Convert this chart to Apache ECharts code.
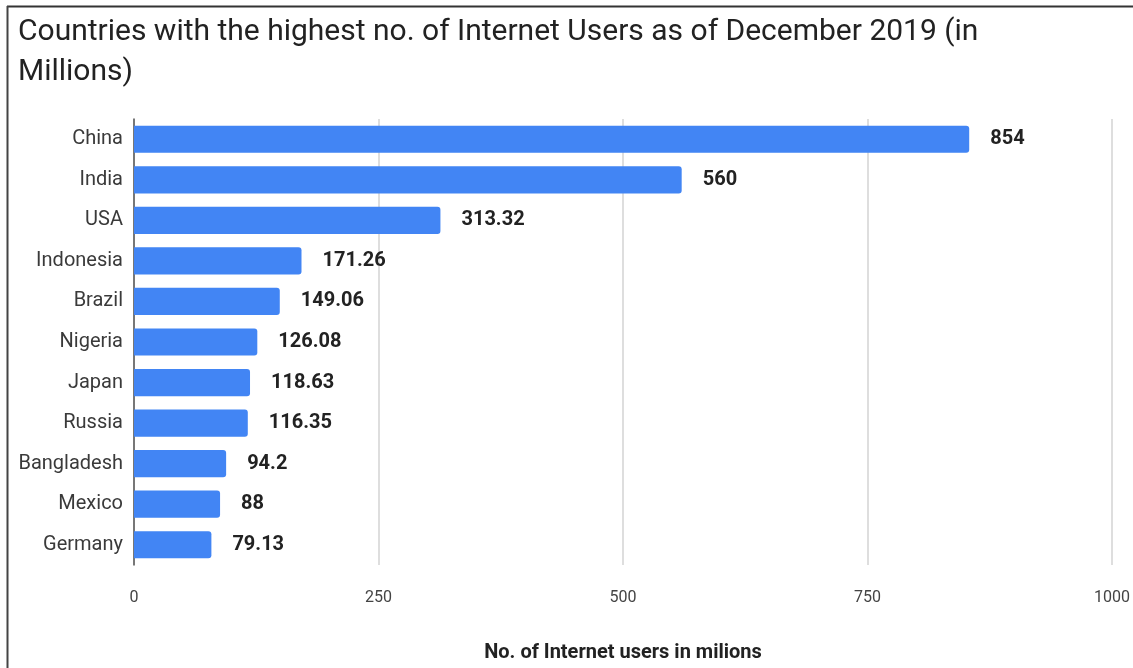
<!DOCTYPE html>
<html>
<head>
<meta charset="utf-8">
<script src="https://cdn.jsdelivr.net/npm/echarts@6/dist/echarts.min.js"></script>
<style>
  html, body { margin: 0; padding: 0; background: #fff; }
  #chart { width: 1133px; height: 668px; }
</style>
</head>
<body>
<div id="chart"></div>
<script>
// Internet users by country, December 2019 (millions)
const countries = ['China', 'India', 'USA', 'Indonesia', 'Brazil', 'Nigeria', 'Japan', 'Russia', 'Bangladesh', 'Mexico', 'Germany'];
const users = [854, 560, 313.32, 171.26, 149.06, 126.08, 118.63, 116.35, 94.2, 88, 79.13];
const xTicks = [0, 250, 500, 750, 1000];

const chart = echarts.init(document.getElementById('chart'));

chart.setOption({
  backgroundColor: '#ffffff',
  animation: false,
  textStyle: { fontFamily: 'Roboto, "Noto Sans", sans-serif' },
  title: {
    text: 'Countries with the highest no. of Internet Users as of December 2019 (in\nMillions)',
    left: 13,
    top: 7,
    textStyle: {
      fontFamily: 'Roboto, sans-serif',
      fontSize: 30,
      fontWeight: 'normal',
      color: '#222',
      lineHeight: 40
    }
  },
  graphic: [
    { type: 'line', shape: { x1: 7, y1: 6.5, x2: 1133, y2: 6.5 }, style: { stroke: '#333', lineWidth: 2 } },
    { type: 'line', shape: { x1: 7.5, y1: 6, x2: 7.5, y2: 668 }, style: { stroke: '#444', lineWidth: 2 } }
  ],
  grid: { left: 134, right: 21, top: 119, bottom: 98 },
  xAxis: {
    type: 'value',
    min: xTicks[0],
    max: xTicks[xTicks.length - 1],
    interval: xTicks[1] - xTicks[0],
    name: 'No. of Internet users in milions',
    nameLocation: 'middle',
    nameGap: 78,
    nameTextStyle: { fontSize: 20, fontWeight: 'bold', color: '#222' },
    axisLine: { show: false },
    axisTick: { show: false },
    axisLabel: { color: '#444', fontSize: 16, margin: 25, formatter: v => String(v) },
    splitLine: { show: true, lineStyle: { color: '#d3d3d3', width: 1.5 } }
  },
  yAxis: {
    type: 'category',
    data: countries,
    inverse: true,
    axisLine: { show: true, lineStyle: { color: '#555', width: 1.5 } },
    axisTick: { show: false },
    axisLabel: { color: '#3a3a3a', fontSize: 20, margin: 11 }
  },
  series: [{
    type: 'bar',
    data: users,
    barCategoryGap: '33%',
    itemStyle: { color: '#4285f4', borderRadius: [0, 3, 3, 0] },
    label: {
      show: true,
      position: 'right',
      distance: 21,
      fontSize: 20,
      fontWeight: 'bold',
      color: '#222'
    }
  }]
});
</script>
</body>
</html>
